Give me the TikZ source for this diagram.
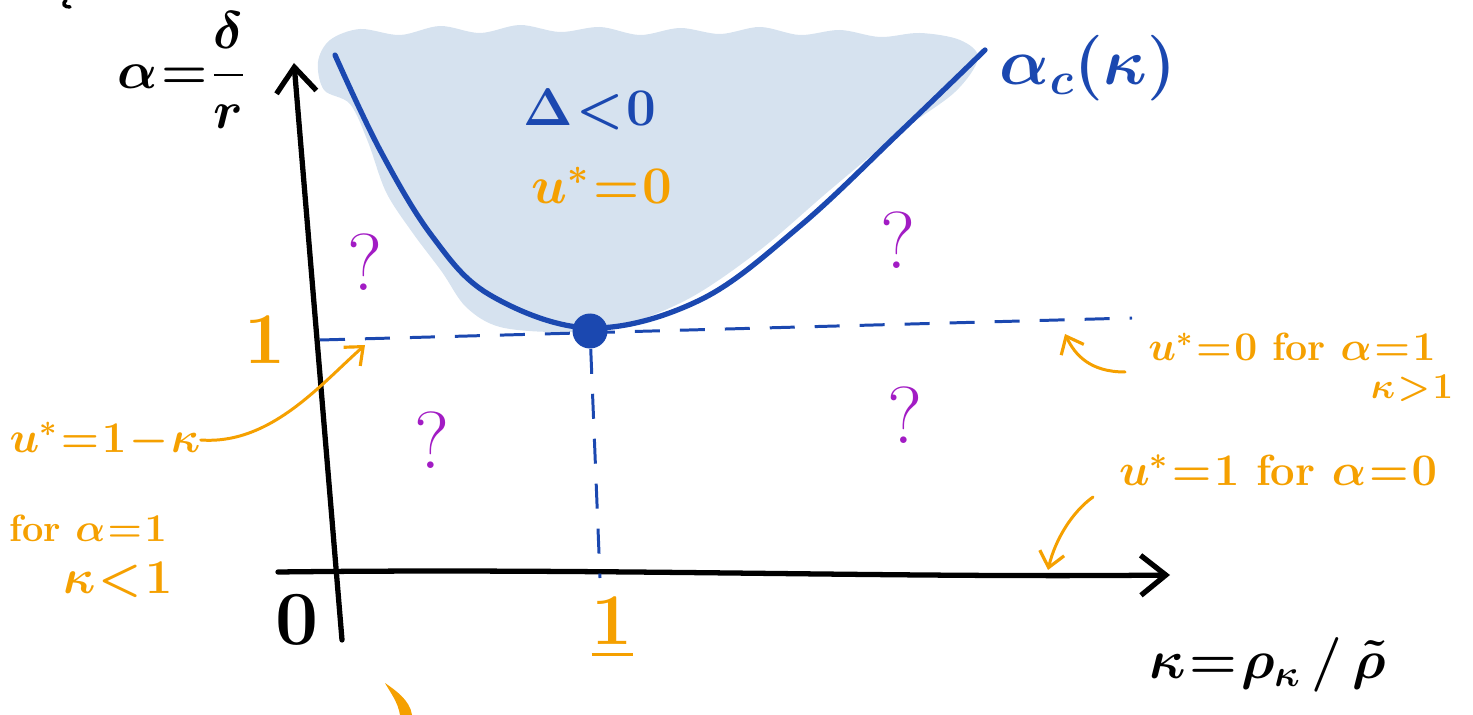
\documentclass[tikz,border=0pt]{standalone}
\usepackage{amsmath}
\usepackage{fontspec}
\usetikzlibrary{arrows.meta}
\definecolor{hblue}{HTML}{1B48B0}
\definecolor{horange}{HTML}{F5A000}
\definecolor{hpurple}{HTML}{A21CC4}
\definecolor{hshade}{HTML}{D6E2EF}
\newcommand{\hwfont}{\fontsize{20}{24}\selectfont\bfseries\boldmath\thickmuskip=1mu\medmuskip=1mu}
\tikzset{
  axis/.style={line width=3pt, black, line cap=round, -{Straight Barb[length=5mm,width=8mm,line width=3pt]}},
  curvec/.style={line width=3pt, hblue, line cap=round},
  dashline/.style={line width=1.7pt, hblue, dash pattern=on 0.5cm off 0.4cm},
  oarrow/.style={line width=1.7pt, horange, line cap=round, -{Straight Barb[length=3mm,width=5mm,line width=1.8pt]}},
  lbl/.style={inner sep=0pt, font=\hwfont, scale=#1},
  olbl/.style={lbl=#1, text=horange},
  blbl/.style={lbl=#1, text=hblue},
  klbl/.style={lbl=#1, text=black},
  qlbl/.style={lbl=2.3, text=hpurple, font=\fontsize{20}{24}\selectfont},
}
\begin{document}
\begin{tikzpicture}[x=0.02cm,y=-0.02cm]
\useasboundingbox (0,0) rectangle (1473,715);
% shaded region
\fill[hshade] plot[smooth cycle, tension=0.55] coordinates {(318,62) (330,40) (360,29) (400,35) (440,26) (480,33) (520,25) (560,32) (600,27) (640,35) (680,28) (720,34) (760,27) (800,35) (840,30) (880,37) (920,33) (960,40) (978,58) (955,92) (900,132) (830,190) (760,250) (690,298) (620,326) (560,332) (500,327) (466,307) (442,272) (412,232) (386,192) (368,142) (350,104) (324,90)};
% axes
\coordinate (ybot) at (342,640);
\coordinate (ytop) at (294,63);
\coordinate (xleft) at (278,572);
\coordinate (xright) at (1170,575);
\draw[axis] (ybot) -- (ytop);
\draw[axis] (xleft) .. controls (600,568) and (900,578) .. (xright);
% critical curve
\draw[curvec] plot[smooth, tension=0.6] coordinates {(335,55) (380,150) (432,236) (490,295) (590,328) (700,300) (800,226) (900,132) (985,50)};
\node[circle, fill=hblue, minimum size=0.7cm, inner sep=0pt] (dot) at (590,331) {};
% dashed lines
\coordinate (hl) at (320,340);
\coordinate (hr) at (1132,318);
\coordinate (vb) at (600,578);
\draw[dashline] (hl) -- (hr);
\draw[dashline] (dot) -- (vb);
% labels
\node[klbl=1.45] (ylab) at (182,70) {$\alpha=\dfrac{\delta}{r}$};
\node[klbl=2.1] (zero) at (297,620) {$0$};
\node[olbl=2.0] (one1) at (265,340) {$1$};
\node[olbl=2.0] (one2) at (612,628) {$\underline{1}$};
\node[blbl=1.45] (delta) at (590,110) {$\Delta<0$};
\node[olbl=1.45] (u0) at (602,185) {$u^*=0$};
\node[blbl=1.8] (ac) at (1088,68) {$\alpha_c(\kappa)$};
\node[qlbl] (q1) at (365,262) {?};
\node[qlbl] (q2) at (898,240) {?};
\node[qlbl] (q3) at (432,440) {?};
\node[qlbl] (q4) at (905,415) {?};
\node[olbl=1.12] (r1) at (1292,347) {$u^*=0$ for $\alpha=1$};
\node[olbl=1.0] (r1b) at (1412,388) {$\kappa>1$};
\node[olbl=1.24] (r2) at (1278,470) {$u^*=1$ for $\alpha=0$};
\node[olbl=1.2] (l1) at (105,440) {$u^*=1-\kappa$};
\node[olbl=1.08] (l2) at (88,528) {for $\alpha=1$};
\node[olbl=1.33] (l3) at (118,580) {$\kappa<1$};
\node[klbl=1.5] (xlab) at (1268,665) {$\kappa=\rho_\kappa\,/\,\tilde{\rho}$};
% annotation arrows
\coordinate (t1) at (365,345);
\coordinate (t2) at (1065,334);
\coordinate (t3) at (1048,570);
\draw[oarrow] (l1.east) .. controls (270,445) and (320,385) .. (t1);
\draw[oarrow] (1125,372) .. controls (1090,372) and (1075,355) .. (t2);
\draw[oarrow] (1093,497) .. controls (1072,512) and (1055,540) .. (t3);
% stray strokes
\fill[horange] (385,683) .. controls (395,690) and (410,700) .. (412,715) -- (400,715) .. controls (398,702) and (390,692) .. cycle;
\draw[black, line width=2pt, line cap=round] (66,0) .. controls (62,4) and (64,7) .. (70,7);
\end{tikzpicture}
\end{document}
